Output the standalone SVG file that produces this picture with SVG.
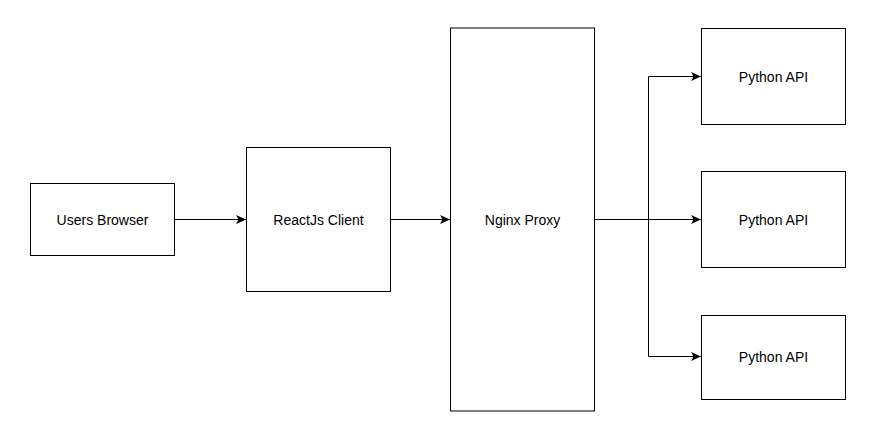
<svg xmlns="http://www.w3.org/2000/svg" width="872" height="440" viewBox="0 0 872 440">
<style>
.box{fill:#fff;stroke:#000;stroke-width:1}
.lbl{font-family:"Liberation Sans",Arial,sans-serif;font-size:14px;fill:#000;text-anchor:middle}
.edge{fill:none;stroke:#000;stroke-width:1}
</style>
<defs>
<marker id="arr" markerWidth="12" markerHeight="10" refX="10" refY="4.5" orient="auto" markerUnits="userSpaceOnUse">
<path d="M0,0 L10,4.5 L0,9 L2.5,4.5 Z" fill="#000"/>
</marker>
</defs>
<rect width="872" height="440" fill="#fff"/>
<g id="connectors">
<path class="edge" d="M174.5,219.5 H246" marker-end="url(#arr)"/>
<path class="edge" d="M390.5,219.5 H450" marker-end="url(#arr)"/>
<path class="edge" d="M594.5,219.5 H701" marker-end="url(#arr)"/>
<path class="edge" d="M648.5,219.5 V76.5 H701" marker-end="url(#arr)"/>
<path class="edge" d="M648.5,219.5 V356.5 H701" marker-end="url(#arr)"/>
</g>
<g id="users-browser">
<rect class="box" x="30.5" y="183.5" width="144" height="72"/>
<text class="lbl" x="102.5" y="224.5">Users Browser</text>
</g>
<g id="reactjs-client">
<rect class="box" x="246.5" y="147.5" width="144" height="144"/>
<text class="lbl" x="318.5" y="224.5">ReactJs Client</text>
</g>
<g id="nginx-proxy">
<rect class="box" x="450.5" y="28" width="144" height="383"/>
<text class="lbl" x="522.5" y="224.5">Nginx Proxy</text>
</g>
<g id="python-api-1">
<rect class="box" x="701.5" y="28.5" width="144" height="96"/>
<text class="lbl" x="773.5" y="81.5">Python API</text>
</g>
<g id="python-api-2">
<rect class="box" x="701.5" y="171.5" width="144" height="96"/>
<text class="lbl" x="773.5" y="224.5">Python API</text>
</g>
<g id="python-api-3">
<rect class="box" x="701.5" y="315.5" width="144" height="84"/>
<text class="lbl" x="773.5" y="361.5">Python API</text>
</g>
</svg>
